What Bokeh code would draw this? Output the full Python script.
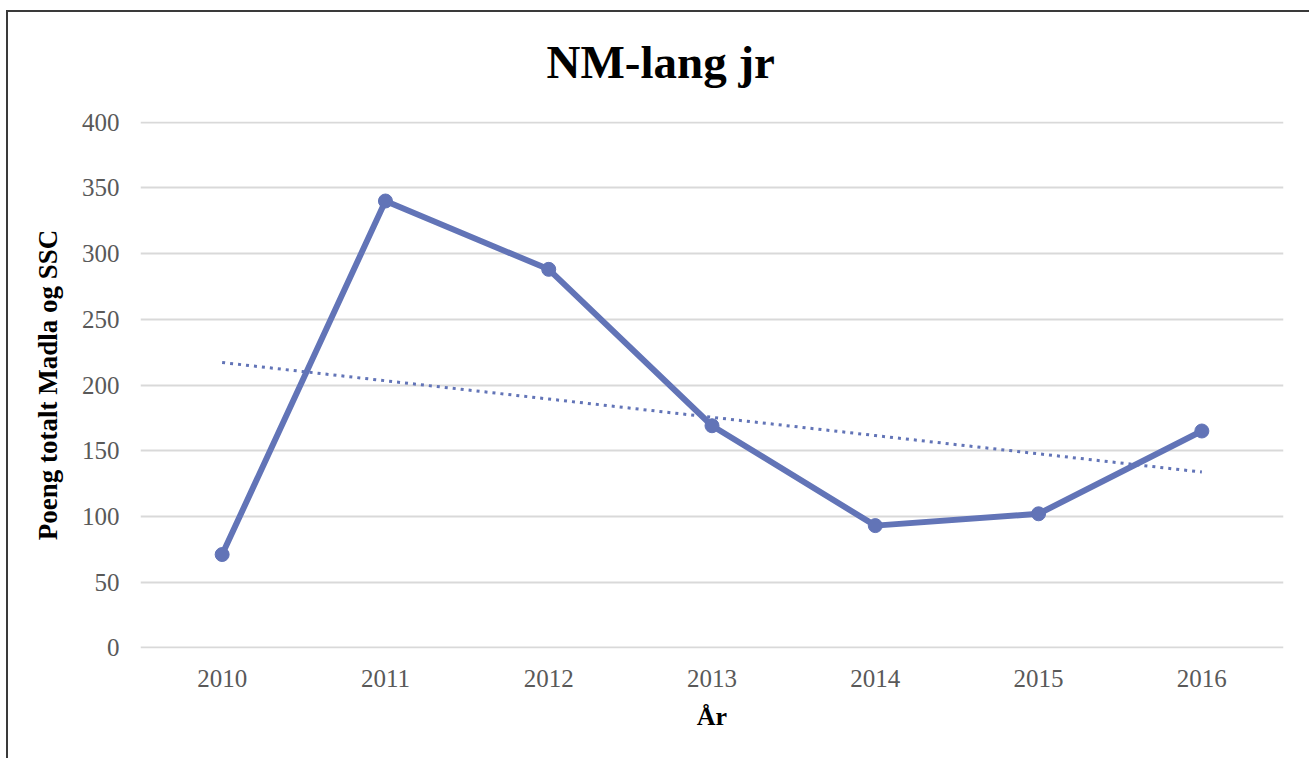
import numpy as np
from bokeh.plotting import figure
from bokeh.models import ColumnDataSource, FactorRange, Range1d, SingleIntervalTicker
from bokeh.embed import file_html
from bokeh.resources import INLINE

years = ["2010", "2011", "2012", "2013", "2014", "2015", "2016"]
points = [71, 340, 288, 169, 93, 102, 165]

# linear trendline fitted to the data
idx = np.arange(len(points))
slope, intercept = np.polyfit(idx, points, 1)
trend = [intercept + slope * i for i in idx]

SERIF = "Liberation Serif"
BLUE = "#6274b7"

p = figure(
    width=1309, height=758,
    x_range=FactorRange(*years, range_padding=0),
    y_range=Range1d(-0.5, 400.5),
    output_backend="svg", toolbar_location=None,
    min_border_left=140, min_border_right=26,
    min_border_top=121, min_border_bottom=110,
)
# chart-area border (left and top edges visible in the reference)
p.border_fill_color = None
p.styles = {
    "background": ("linear-gradient(#3a3a3a,#3a3a3a) 6px 10px / 2px 100% no-repeat, "
                   "linear-gradient(#3a3a3a,#3a3a3a) 6px 10px / 100% 2px no-repeat, white"),
}

p.title.text = "NM-lang jr"
p.title.text_font = SERIF
p.title.text_font_size = "47px"
p.title.text_font_style = "bold"
p.title.text_color = "#000000"
p.title.align = "left"
p.title.offset = 406
p.title.vertical_align = "top"
p.title.standoff = 64

p.outline_line_color = None
p.background_fill_color = "white"

# grid
p.xgrid.grid_line_color = None
p.ygrid.grid_line_color = "#d9d9d9"
p.ygrid.grid_line_width = 2
p.yaxis.ticker = SingleIntervalTicker(interval=50)

for ax in (p.xaxis, p.yaxis):
    ax.axis_line_color = None
    ax.major_tick_line_color = None
    ax.minor_tick_line_color = None
    ax.major_tick_out = 0
    ax.major_tick_in = 0
    ax.major_label_text_font = SERIF
    ax.major_label_text_font_size = "25px"
    ax.major_label_text_color = "#595959"
    ax.axis_label_text_font = SERIF
    ax.axis_label_text_font_style = "bold"
    ax.axis_label_text_color = "#000000"

p.xaxis.axis_label_text_font_size = "26px"
p.yaxis.axis_label_text_font_size = "27px"
p.xaxis.axis_label = "År"
p.yaxis.axis_label = "Poeng totalt Madla og SSC"
p.yaxis.major_label_standoff = 17
p.xaxis.major_label_standoff = 21
p.yaxis.axis_label_standoff = 16
p.xaxis.axis_label_standoff = 12

src = ColumnDataSource(dict(x=years, y=points, t=trend))
p.line("x", "t", source=src, line_color=BLUE, line_width=3, line_dash="3 5")
p.line("x", "y", source=src, line_color=BLUE, line_width=6, line_join="round")
p.scatter("x", "y", source=src, size=14, fill_color=BLUE, line_color=BLUE)

open("out.html", "w").write(file_html(p, INLINE))
